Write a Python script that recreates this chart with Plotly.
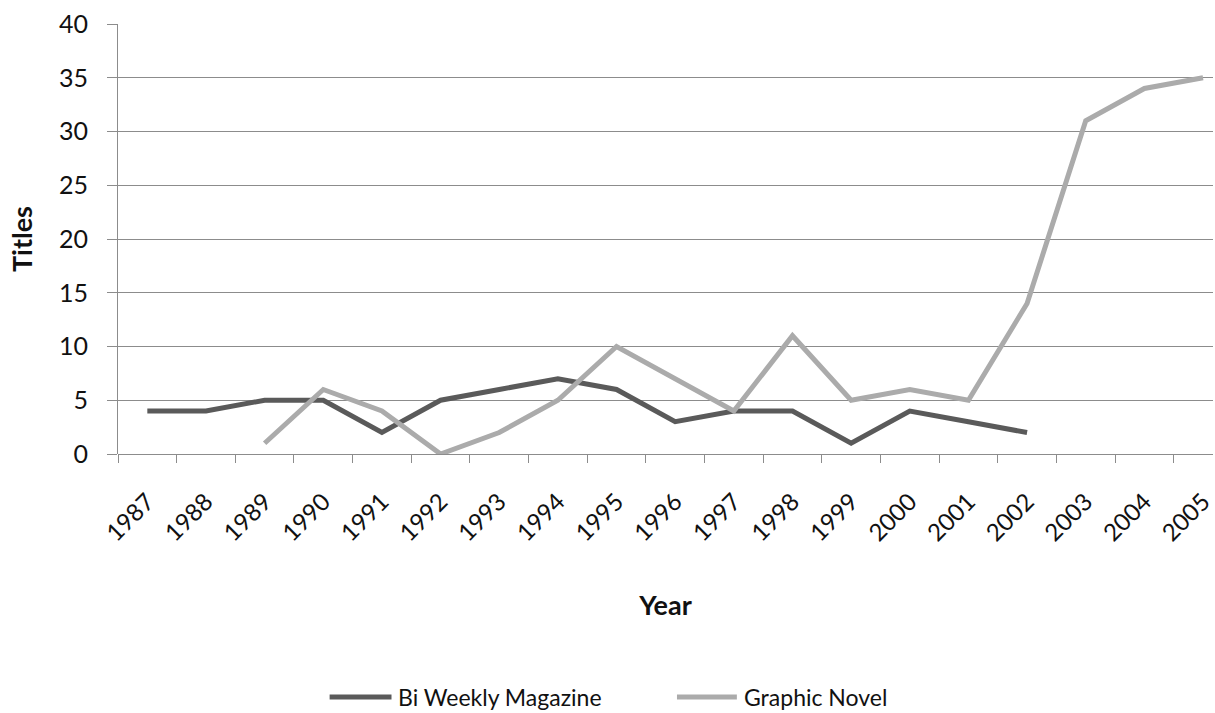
import plotly.graph_objects as go

years = [str(y) for y in range(1987, 2006)]
bi_weekly = [4, 4, 5, 5, 2, 5, 6, 7, 6, 3, 4, 4, 1, 4, 3, 2, None, None, None]
graphic_novel = [None, None, 1, 6, 4, 0, 2, 5, 10, 7, 4, 11, 5, 6, 5, 14, 31, 34, 35]
y_ticks = [0, 5, 10, 15, 20, 25, 30, 35, 40]

series = [
    ("Bi Weekly Magazine", bi_weekly, "#5a5a5a"),
    ("Graphic Novel", graphic_novel, "#ababab"),
]

FONT = "Lato"
GRID = "#8c8c8c"
TEXT = "#111111"

# plot area in pixels (figure is 1215 x 713)
L, T, B = 118, 24, 259
PW, PH = 1215 - L, 713 - T - B


def px_x(px):
    return (px - L) / PW


def px_y(py):
    return (713 - B - py) / PH


fig = go.Figure()
for name, vals, color in series:
    fig.add_trace(go.Scatter(
        x=years, y=vals, name=name, mode="lines",
        line=dict(color=color, width=5), connectgaps=False, showlegend=False,
    ))

# legend row below the axis title: swatch line + label
legend_items = [(330, 392, 397), (678, 738, 743)]
shapes, annotations = [], []
for (x0, x1, tx), (name, _, color) in zip(legend_items, series):
    shapes.append(dict(
        type="line", xref="paper", yref="paper",
        x0=px_x(x0), x1=px_x(x1), y0=px_y(697), y1=px_y(697),
        line=dict(color=color, width=5),
    ))
    annotations.append(dict(
        xref="paper", yref="paper", x=px_x(tx), y=px_y(697),
        xanchor="left", yanchor="middle", showarrow=False, text=name,
        font=dict(family=FONT, size=23, color=TEXT),
    ))

fig.update_layout(
    width=1215, height=713,
    margin=dict(l=L, r=0, t=T, b=B),
    paper_bgcolor="white", plot_bgcolor="white",
    font=dict(family=FONT, size=24, color=TEXT),
    showlegend=False,
    shapes=shapes, annotations=annotations,
    xaxis=dict(
        type="category", categoryorder="array", categoryarray=years,
        range=[-0.5, 18.17],
        tickson="boundaries", ticks="outside", ticklen=8, tickcolor=GRID,
        tickangle=-45, ticklabelstandoff=28,
        tickfont=dict(family=FONT, size=24, color=TEXT),
        showline=False, showgrid=False, zeroline=False,
        title=dict(text="<b>Year</b>", font=dict(family=FONT, size=27, color=TEXT), standoff=50),
    ),
    yaxis=dict(
        range=[0, 40], tickvals=y_ticks,
        ticks="outside", ticklen=10, tickcolor=GRID,
        tickfont=dict(family=FONT, size=25, color=TEXT),
        showgrid=True, gridcolor=GRID, gridwidth=1,
        showline=True, linecolor=GRID, linewidth=1,
        zeroline=True, zerolinecolor=GRID, zerolinewidth=1,
        ticklabelstandoff=14,
        title=dict(text="<b>Titles</b>", font=dict(family=FONT, size=27, color=TEXT), standoff=18),
    ),
)

fig.write_html("out.html")
